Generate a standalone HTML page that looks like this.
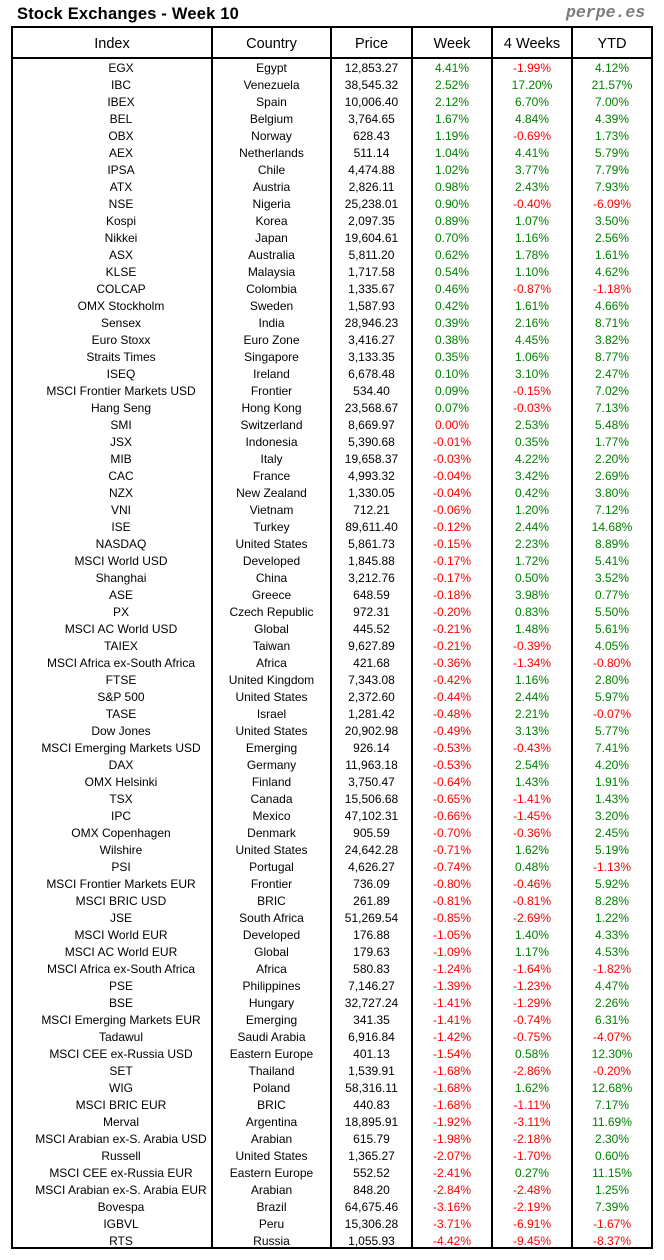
<!DOCTYPE html>
<html>
<head>
<meta charset="utf-8">
<style>
html,body{margin:0;padding:0;background:#fff;}
body{width:664px;height:1260px;position:relative;overflow:hidden;font-family:"Liberation Sans",Arial,sans-serif;color:#000;}
#title{position:absolute;left:17px;top:4px;font-size:16.5px;font-weight:bold;line-height:20px;white-space:nowrap;letter-spacing:0.2px;}
#brand{position:absolute;left:566px;top:3px;font-family:"Liberation Mono",monospace;font-weight:bold;font-style:italic;font-size:16.5px;line-height:20px;color:#7a7a7a;white-space:nowrap;}
#box{position:absolute;left:11px;top:26px;width:642px;height:1223px;border:2px solid #000;box-sizing:border-box;}
.v{position:absolute;top:26px;width:2px;height:1223px;background:#000;}
#hl{position:absolute;left:11px;top:57px;width:642px;height:2px;background:#000;}
#head{position:absolute;left:13px;top:29px;}
#head .row{height:28px;line-height:30px;font-size:14.5px;}
#rows{position:absolute;left:13px;top:60px;}
.row{display:flex;height:17px;line-height:17px;font-size:12px;}
.row span{display:block;text-align:center;white-space:nowrap;margin-right:2px;overflow:visible;}
.a{width:198px;}
#rows .a{padding-left:18px;box-sizing:border-box;}
.b{width:117px;}
.c{width:79px;}
.d{width:78px;}
.g{color:#008000;}
.r{color:#ff0000;}
</style>
</head>
<body>
<div id="title">Stock Exchanges - Week 10</div>
<div id="brand">perpe.es</div>
<div id="box"></div>
<div class="v" style="left:211px"></div>
<div class="v" style="left:330px"></div>
<div class="v" style="left:411px"></div>
<div class="v" style="left:491px"></div>
<div class="v" style="left:571px"></div>
<div id="hl"></div>
<div id="head"><div class="row"><span class="a">Index</span><span class="b">Country</span><span class="c">Price</span><span class="d">Week</span><span class="d">4 Weeks</span><span class="d">YTD</span></div></div>
<div id="rows">
<div class="row"><span class="a">EGX</span><span class="b">Egypt</span><span class="c">12,853.27</span><span class="d g">4.41%</span><span class="d r">-1.99%</span><span class="d g">4.12%</span></div>
<div class="row"><span class="a">IBC</span><span class="b">Venezuela</span><span class="c">38,545.32</span><span class="d g">2.52%</span><span class="d g">17.20%</span><span class="d g">21.57%</span></div>
<div class="row"><span class="a">IBEX</span><span class="b">Spain</span><span class="c">10,006.40</span><span class="d g">2.12%</span><span class="d g">6.70%</span><span class="d g">7.00%</span></div>
<div class="row"><span class="a">BEL</span><span class="b">Belgium</span><span class="c">3,764.65</span><span class="d g">1.67%</span><span class="d g">4.84%</span><span class="d g">4.39%</span></div>
<div class="row"><span class="a">OBX</span><span class="b">Norway</span><span class="c">628.43</span><span class="d g">1.19%</span><span class="d r">-0.69%</span><span class="d g">1.73%</span></div>
<div class="row"><span class="a">AEX</span><span class="b">Netherlands</span><span class="c">511.14</span><span class="d g">1.04%</span><span class="d g">4.41%</span><span class="d g">5.79%</span></div>
<div class="row"><span class="a">IPSA</span><span class="b">Chile</span><span class="c">4,474.88</span><span class="d g">1.02%</span><span class="d g">3.77%</span><span class="d g">7.79%</span></div>
<div class="row"><span class="a">ATX</span><span class="b">Austria</span><span class="c">2,826.11</span><span class="d g">0.98%</span><span class="d g">2.43%</span><span class="d g">7.93%</span></div>
<div class="row"><span class="a">NSE</span><span class="b">Nigeria</span><span class="c">25,238.01</span><span class="d g">0.90%</span><span class="d r">-0.40%</span><span class="d r">-6.09%</span></div>
<div class="row"><span class="a">Kospi</span><span class="b">Korea</span><span class="c">2,097.35</span><span class="d g">0.89%</span><span class="d g">1.07%</span><span class="d g">3.50%</span></div>
<div class="row"><span class="a">Nikkei</span><span class="b">Japan</span><span class="c">19,604.61</span><span class="d g">0.70%</span><span class="d g">1.16%</span><span class="d g">2.56%</span></div>
<div class="row"><span class="a">ASX</span><span class="b">Australia</span><span class="c">5,811.20</span><span class="d g">0.62%</span><span class="d g">1.78%</span><span class="d g">1.61%</span></div>
<div class="row"><span class="a">KLSE</span><span class="b">Malaysia</span><span class="c">1,717.58</span><span class="d g">0.54%</span><span class="d g">1.10%</span><span class="d g">4.62%</span></div>
<div class="row"><span class="a">COLCAP</span><span class="b">Colombia</span><span class="c">1,335.67</span><span class="d g">0.46%</span><span class="d r">-0.87%</span><span class="d r">-1.18%</span></div>
<div class="row"><span class="a">OMX Stockholm</span><span class="b">Sweden</span><span class="c">1,587.93</span><span class="d g">0.42%</span><span class="d g">1.61%</span><span class="d g">4.66%</span></div>
<div class="row"><span class="a">Sensex</span><span class="b">India</span><span class="c">28,946.23</span><span class="d g">0.39%</span><span class="d g">2.16%</span><span class="d g">8.71%</span></div>
<div class="row"><span class="a">Euro Stoxx</span><span class="b">Euro Zone</span><span class="c">3,416.27</span><span class="d g">0.38%</span><span class="d g">4.45%</span><span class="d g">3.82%</span></div>
<div class="row"><span class="a">Straits Times</span><span class="b">Singapore</span><span class="c">3,133.35</span><span class="d g">0.35%</span><span class="d g">1.06%</span><span class="d g">8.77%</span></div>
<div class="row"><span class="a">ISEQ</span><span class="b">Ireland</span><span class="c">6,678.48</span><span class="d g">0.10%</span><span class="d g">3.10%</span><span class="d g">2.47%</span></div>
<div class="row"><span class="a">MSCI Frontier Markets USD</span><span class="b">Frontier</span><span class="c">534.40</span><span class="d g">0.09%</span><span class="d r">-0.15%</span><span class="d g">7.02%</span></div>
<div class="row"><span class="a">Hang Seng</span><span class="b">Hong Kong</span><span class="c">23,568.67</span><span class="d g">0.07%</span><span class="d r">-0.03%</span><span class="d g">7.13%</span></div>
<div class="row"><span class="a">SMI</span><span class="b">Switzerland</span><span class="c">8,669.97</span><span class="d r">0.00%</span><span class="d g">2.53%</span><span class="d g">5.48%</span></div>
<div class="row"><span class="a">JSX</span><span class="b">Indonesia</span><span class="c">5,390.68</span><span class="d r">-0.01%</span><span class="d g">0.35%</span><span class="d g">1.77%</span></div>
<div class="row"><span class="a">MIB</span><span class="b">Italy</span><span class="c">19,658.37</span><span class="d r">-0.03%</span><span class="d g">4.22%</span><span class="d g">2.20%</span></div>
<div class="row"><span class="a">CAC</span><span class="b">France</span><span class="c">4,993.32</span><span class="d r">-0.04%</span><span class="d g">3.42%</span><span class="d g">2.69%</span></div>
<div class="row"><span class="a">NZX</span><span class="b">New Zealand</span><span class="c">1,330.05</span><span class="d r">-0.04%</span><span class="d g">0.42%</span><span class="d g">3.80%</span></div>
<div class="row"><span class="a">VNI</span><span class="b">Vietnam</span><span class="c">712.21</span><span class="d r">-0.06%</span><span class="d g">1.20%</span><span class="d g">7.12%</span></div>
<div class="row"><span class="a">ISE</span><span class="b">Turkey</span><span class="c">89,611.40</span><span class="d r">-0.12%</span><span class="d g">2.44%</span><span class="d g">14.68%</span></div>
<div class="row"><span class="a">NASDAQ</span><span class="b">United States</span><span class="c">5,861.73</span><span class="d r">-0.15%</span><span class="d g">2.23%</span><span class="d g">8.89%</span></div>
<div class="row"><span class="a">MSCI World USD</span><span class="b">Developed</span><span class="c">1,845.88</span><span class="d r">-0.17%</span><span class="d g">1.72%</span><span class="d g">5.41%</span></div>
<div class="row"><span class="a">Shanghai</span><span class="b">China</span><span class="c">3,212.76</span><span class="d r">-0.17%</span><span class="d g">0.50%</span><span class="d g">3.52%</span></div>
<div class="row"><span class="a">ASE</span><span class="b">Greece</span><span class="c">648.59</span><span class="d r">-0.18%</span><span class="d g">3.98%</span><span class="d g">0.77%</span></div>
<div class="row"><span class="a">PX</span><span class="b">Czech Republic</span><span class="c">972.31</span><span class="d r">-0.20%</span><span class="d g">0.83%</span><span class="d g">5.50%</span></div>
<div class="row"><span class="a">MSCI AC World USD</span><span class="b">Global</span><span class="c">445.52</span><span class="d r">-0.21%</span><span class="d g">1.48%</span><span class="d g">5.61%</span></div>
<div class="row"><span class="a">TAIEX</span><span class="b">Taiwan</span><span class="c">9,627.89</span><span class="d r">-0.21%</span><span class="d r">-0.39%</span><span class="d g">4.05%</span></div>
<div class="row"><span class="a">MSCI Africa ex-South Africa</span><span class="b">Africa</span><span class="c">421.68</span><span class="d r">-0.36%</span><span class="d r">-1.34%</span><span class="d r">-0.80%</span></div>
<div class="row"><span class="a">FTSE</span><span class="b">United Kingdom</span><span class="c">7,343.08</span><span class="d r">-0.42%</span><span class="d g">1.16%</span><span class="d g">2.80%</span></div>
<div class="row"><span class="a">S&amp;P 500</span><span class="b">United States</span><span class="c">2,372.60</span><span class="d r">-0.44%</span><span class="d g">2.44%</span><span class="d g">5.97%</span></div>
<div class="row"><span class="a">TASE</span><span class="b">Israel</span><span class="c">1,281.42</span><span class="d r">-0.48%</span><span class="d g">2.21%</span><span class="d r">-0.07%</span></div>
<div class="row"><span class="a">Dow Jones</span><span class="b">United States</span><span class="c">20,902.98</span><span class="d r">-0.49%</span><span class="d g">3.13%</span><span class="d g">5.77%</span></div>
<div class="row"><span class="a">MSCI Emerging Markets USD</span><span class="b">Emerging</span><span class="c">926.14</span><span class="d r">-0.53%</span><span class="d r">-0.43%</span><span class="d g">7.41%</span></div>
<div class="row"><span class="a">DAX</span><span class="b">Germany</span><span class="c">11,963.18</span><span class="d r">-0.53%</span><span class="d g">2.54%</span><span class="d g">4.20%</span></div>
<div class="row"><span class="a">OMX Helsinki</span><span class="b">Finland</span><span class="c">3,750.47</span><span class="d r">-0.64%</span><span class="d g">1.43%</span><span class="d g">1.91%</span></div>
<div class="row"><span class="a">TSX</span><span class="b">Canada</span><span class="c">15,506.68</span><span class="d r">-0.65%</span><span class="d r">-1.41%</span><span class="d g">1.43%</span></div>
<div class="row"><span class="a">IPC</span><span class="b">Mexico</span><span class="c">47,102.31</span><span class="d r">-0.66%</span><span class="d r">-1.45%</span><span class="d g">3.20%</span></div>
<div class="row"><span class="a">OMX Copenhagen</span><span class="b">Denmark</span><span class="c">905.59</span><span class="d r">-0.70%</span><span class="d r">-0.36%</span><span class="d g">2.45%</span></div>
<div class="row"><span class="a">Wilshire</span><span class="b">United States</span><span class="c">24,642.28</span><span class="d r">-0.71%</span><span class="d g">1.62%</span><span class="d g">5.19%</span></div>
<div class="row"><span class="a">PSI</span><span class="b">Portugal</span><span class="c">4,626.27</span><span class="d r">-0.74%</span><span class="d g">0.48%</span><span class="d r">-1.13%</span></div>
<div class="row"><span class="a">MSCI Frontier Markets EUR</span><span class="b">Frontier</span><span class="c">736.09</span><span class="d r">-0.80%</span><span class="d r">-0.46%</span><span class="d g">5.92%</span></div>
<div class="row"><span class="a">MSCI BRIC USD</span><span class="b">BRIC</span><span class="c">261.89</span><span class="d r">-0.81%</span><span class="d r">-0.81%</span><span class="d g">8.28%</span></div>
<div class="row"><span class="a">JSE</span><span class="b">South Africa</span><span class="c">51,269.54</span><span class="d r">-0.85%</span><span class="d r">-2.69%</span><span class="d g">1.22%</span></div>
<div class="row"><span class="a">MSCI World EUR</span><span class="b">Developed</span><span class="c">176.88</span><span class="d r">-1.05%</span><span class="d g">1.40%</span><span class="d g">4.33%</span></div>
<div class="row"><span class="a">MSCI AC World EUR</span><span class="b">Global</span><span class="c">179.63</span><span class="d r">-1.09%</span><span class="d g">1.17%</span><span class="d g">4.53%</span></div>
<div class="row"><span class="a">MSCI Africa ex-South Africa</span><span class="b">Africa</span><span class="c">580.83</span><span class="d r">-1.24%</span><span class="d r">-1.64%</span><span class="d r">-1.82%</span></div>
<div class="row"><span class="a">PSE</span><span class="b">Philippines</span><span class="c">7,146.27</span><span class="d r">-1.39%</span><span class="d r">-1.23%</span><span class="d g">4.47%</span></div>
<div class="row"><span class="a">BSE</span><span class="b">Hungary</span><span class="c">32,727.24</span><span class="d r">-1.41%</span><span class="d r">-1.29%</span><span class="d g">2.26%</span></div>
<div class="row"><span class="a">MSCI Emerging Markets EUR</span><span class="b">Emerging</span><span class="c">341.35</span><span class="d r">-1.41%</span><span class="d r">-0.74%</span><span class="d g">6.31%</span></div>
<div class="row"><span class="a">Tadawul</span><span class="b">Saudi Arabia</span><span class="c">6,916.84</span><span class="d r">-1.42%</span><span class="d r">-0.75%</span><span class="d r">-4.07%</span></div>
<div class="row"><span class="a">MSCI CEE ex-Russia USD</span><span class="b">Eastern Europe</span><span class="c">401.13</span><span class="d r">-1.54%</span><span class="d g">0.58%</span><span class="d g">12.30%</span></div>
<div class="row"><span class="a">SET</span><span class="b">Thailand</span><span class="c">1,539.91</span><span class="d r">-1.68%</span><span class="d r">-2.86%</span><span class="d r">-0.20%</span></div>
<div class="row"><span class="a">WIG</span><span class="b">Poland</span><span class="c">58,316.11</span><span class="d r">-1.68%</span><span class="d g">1.62%</span><span class="d g">12.68%</span></div>
<div class="row"><span class="a">MSCI BRIC EUR</span><span class="b">BRIC</span><span class="c">440.83</span><span class="d r">-1.68%</span><span class="d r">-1.11%</span><span class="d g">7.17%</span></div>
<div class="row"><span class="a">Merval</span><span class="b">Argentina</span><span class="c">18,895.91</span><span class="d r">-1.92%</span><span class="d r">-3.11%</span><span class="d g">11.69%</span></div>
<div class="row"><span class="a">MSCI Arabian ex-S. Arabia USD</span><span class="b">Arabian</span><span class="c">615.79</span><span class="d r">-1.98%</span><span class="d r">-2.18%</span><span class="d g">2.30%</span></div>
<div class="row"><span class="a">Russell</span><span class="b">United States</span><span class="c">1,365.27</span><span class="d r">-2.07%</span><span class="d r">-1.70%</span><span class="d g">0.60%</span></div>
<div class="row"><span class="a">MSCI CEE ex-Russia EUR</span><span class="b">Eastern Europe</span><span class="c">552.52</span><span class="d r">-2.41%</span><span class="d g">0.27%</span><span class="d g">11.15%</span></div>
<div class="row"><span class="a">MSCI Arabian ex-S. Arabia EUR</span><span class="b">Arabian</span><span class="c">848.20</span><span class="d r">-2.84%</span><span class="d r">-2.48%</span><span class="d g">1.25%</span></div>
<div class="row"><span class="a">Bovespa</span><span class="b">Brazil</span><span class="c">64,675.46</span><span class="d r">-3.16%</span><span class="d r">-2.19%</span><span class="d g">7.39%</span></div>
<div class="row"><span class="a">IGBVL</span><span class="b">Peru</span><span class="c">15,306.28</span><span class="d r">-3.71%</span><span class="d r">-6.91%</span><span class="d r">-1.67%</span></div>
<div class="row"><span class="a">RTS</span><span class="b">Russia</span><span class="c">1,055.93</span><span class="d r">-4.42%</span><span class="d r">-9.45%</span><span class="d r">-8.37%</span></div>
</div>
</body>
</html>
